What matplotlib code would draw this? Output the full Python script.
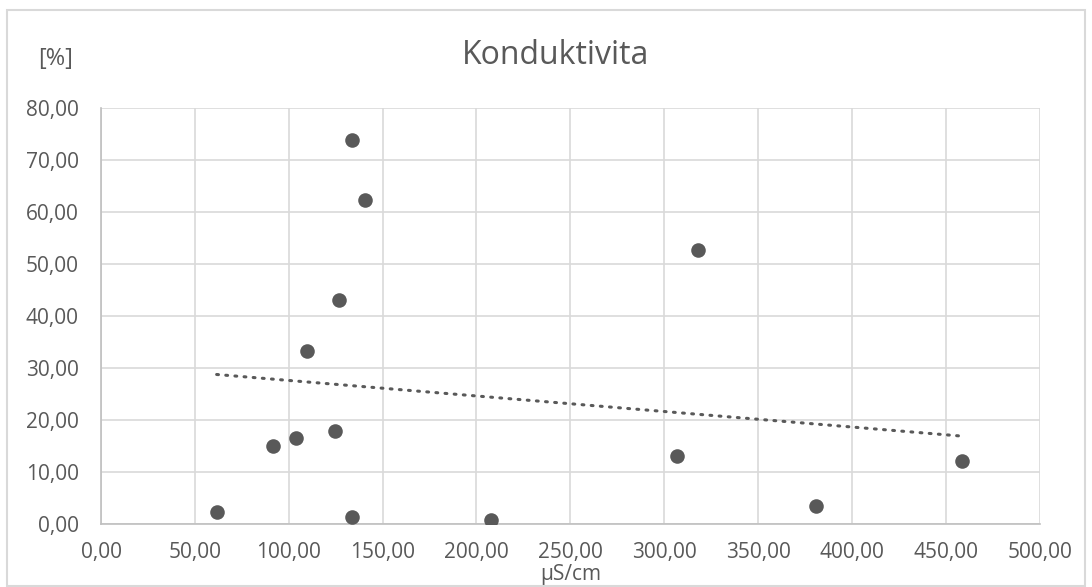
import numpy as np
import matplotlib.pyplot as plt
from matplotlib.patches import Rectangle

plt.rcParams['font.family'] = ['Open Sans', 'DejaVu Sans']

# conductivity [uS/cm] vs. percentage
x_vals = [61.6, 91.4, 103.8, 124.8, 133.8, 207.8, 306.9, 381.1, 458.8,
          133.8, 140.7, 126.9, 109.9, 317.9]
y_vals = [2.37, 15.0, 16.6, 17.9, 1.47, 0.77, 13.1, 3.46, 12.1,
          73.8, 62.4, 43.1, 33.3, 52.7]
x_ticks = [0, 50, 100, 150, 200, 250, 300, 350, 400, 450, 500]
y_ticks = [0, 10, 20, 30, 40, 50, 60, 70, 80]

grey = '#595959'

fig = plt.figure(figsize=(10.92, 5.87), dpi=100)
ax = fig.add_axes([0.0925, 0.107, 0.8595, 0.709])

ax.scatter(x_vals, y_vals, s=110, color=grey, zorder=3, linewidths=0)

# linear trendline
xs = np.array(x_vals)
k, q = np.polyfit(xs, np.array(y_vals), 1)
tx = np.array([xs.min(), xs.max()])
ax.plot(tx, k * tx + q, linestyle=(0, (0.6, 2.4)), color=grey, lw=2.2,
        dash_capstyle='round', zorder=2)

ax.set_xlim(0, 500)
ax.set_ylim(0, 80)
ax.set_xticks(x_ticks)
ax.set_yticks(y_ticks)
ax.set_xticklabels([f'{v:.2f}'.replace('.', ',') for v in x_ticks])
ax.set_yticklabels([f'{v:.2f}'.replace('.', ',') for v in y_ticks])
ax.tick_params(length=0, labelsize=15, colors=grey)
ax.tick_params(axis='x', pad=13)
ax.tick_params(axis='y', pad=16)
ax.grid(True, color='#d9d9d9', lw=1.2)
ax.set_axisbelow(True)
for s in ['top', 'right']:
    ax.spines[s].set_visible(False)
for s in ['left', 'bottom']:
    ax.spines[s].set_color('#bfbfbf')
    ax.spines[s].set_linewidth(1.2)

fig.text(0.509, 0.905, 'Konduktivita', ha='center', va='center',
         fontsize=23, color=grey)
fig.text(0.051, 0.899, '[%]', ha='center', va='center', fontsize=17, color=grey)
fig.text(0.523, 0.021, 'µS/cm', ha='center', va='center', fontsize=15, color=grey)

fig.patches.append(Rectangle((0.0064, 0.0025), 0.987, 0.981, transform=fig.transFigure,
                             fill=False, edgecolor='#d9d9d9', lw=1.5, zorder=5))

fig.savefig('out.png', dpi=100)
